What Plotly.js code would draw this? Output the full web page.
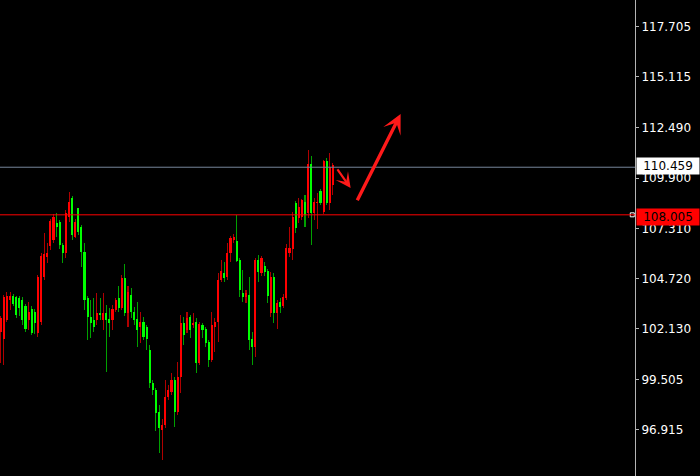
<!DOCTYPE html>
<html>
<head>
<meta charset="utf-8">
<script src="https://cdn.plot.ly/plotly-3.0.1.min.js"></script>
<style>html,body{margin:0;padding:0;background:#000;}#chart{width:700px;height:476px;}</style>
</head>
<body>
<div id="chart"></div>
<script>
const openP = [101.97,101.61,102.58,103.62,103.82,103.77,103.72,103.62,103.31,102.58,103.15,103.00,101.91,102.48,104.80,105.83,106.40,106.71,107.58,107.64,106.45,106.04,107.89,108.87,106.86,108.36,107.38,106.09,103.72,102.74,102.58,102.58,102.94,102.58,102.94,102.64,102.58,103.10,103.72,103.20,104.75,102.94,103.87,103.00,102.64,102.22,102.48,102.22,101.04,99.34,98.98,97.84,96.91,97.17,98.62,98.87,99.49,97.84,99.65,102.43,102.07,102.74,102.33,102.48,100.37,102.33,102.12,101.45,100.52,102.22,102.48,104.65,105.01,104.80,106.04,106.71,106.66,105.68,103.98,103.77,103.87,101.61,101.19,105.68,105.01,105.37,105.11,102.94,104.80,102.94,103.51,103.31,103.72,106.04,106.24,108.62,107.84,107.89,108.67,108.10,110.63,108.10,108.62,109.23,108.15,110.78,108.62,109.54];
const highP = [102.79,103.87,104.03,104.03,103.92,103.82,103.82,103.77,103.41,103.51,103.31,103.15,104.90,106.04,107.07,106.55,107.79,108.05,108.10,107.74,106.55,108.25,109.18,108.98,107.79,108.36,107.48,106.55,103.82,103.62,103.72,103.98,103.72,103.98,103.36,103.20,103.36,103.72,104.34,104.90,105.47,104.34,104.23,103.25,103.51,103.00,102.74,102.33,101.30,99.49,99.08,98.20,97.48,99.49,99.23,99.85,99.65,100.42,102.84,102.74,103.00,102.84,102.94,102.69,102.48,102.43,102.22,101.55,103.00,102.69,105.01,105.68,105.57,106.55,106.91,107.02,108.00,105.78,105.16,104.13,104.80,101.97,105.78,105.94,105.88,105.57,105.21,105.06,105.01,103.62,103.72,103.92,106.50,107.38,108.15,108.72,108.87,108.82,109.03,111.35,111.04,108.87,109.13,109.34,110.83,110.94,111.19,110.68];
const lowP = [100.37,100.26,102.48,103.10,103.31,102.69,102.79,102.33,101.97,102.07,101.81,101.86,101.71,102.33,104.65,105.52,106.19,106.55,106.86,106.24,105.52,105.78,107.64,106.71,106.81,106.97,105.32,103.10,101.55,101.66,101.97,102.33,102.58,102.07,99.90,101.71,102.07,103.00,103.00,103.10,102.79,102.22,102.69,102.33,101.19,101.40,101.55,101.04,99.08,98.72,96.86,95.73,95.37,97.02,98.46,98.72,97.07,97.69,98.82,101.30,101.91,101.66,102.17,99.85,100.26,101.66,101.19,100.16,100.42,100.93,101.45,104.54,104.54,104.65,105.57,106.55,105.57,103.77,103.51,103.46,101.04,100.26,100.68,104.54,104.85,104.85,103.46,102.74,102.43,102.12,102.94,103.20,103.62,105.83,105.68,107.07,107.58,107.74,107.38,107.84,106.45,107.74,107.28,108.51,108.05,108.51,108.25,109.03];
const closeP = [102.69,103.77,103.82,103.82,103.41,102.84,103.20,102.58,102.12,103.00,101.91,102.43,104.80,105.88,105.99,106.04,107.69,107.89,107.38,106.45,106.04,108.10,108.67,106.97,107.64,107.12,106.09,103.62,102.74,102.43,102.22,102.94,102.84,102.94,102.58,102.43,103.15,103.62,103.20,104.75,102.94,104.03,103.00,102.58,102.07,102.48,101.71,101.61,99.34,98.98,97.79,97.02,97.17,98.62,98.98,99.49,97.84,99.65,102.43,101.81,102.69,102.07,102.43,100.37,102.38,102.07,101.40,100.52,102.33,102.48,104.65,105.11,104.75,106.04,106.81,106.86,105.63,104.13,103.77,103.98,101.55,101.19,105.68,105.06,105.78,105.06,103.82,104.80,102.94,103.46,103.25,103.77,106.30,106.30,107.89,107.33,108.41,108.77,108.00,110.63,108.10,108.67,108.67,108.62,110.78,108.62,110.47,110.57];

const tickValues = [117.705,115.115,112.490,109.900,107.310,104.720,102.130,99.505,96.915];
const tickLabels = ["117.705","115.115","112.490","109.900","107.310","104.720","102.130","99.505","96.915"];

const bidLevel = 110.459;
const keyLevel = 108.005;
const bidLabel = "110.459";
const keyLabel = "108.005";

// arrows: [tipIndex, tipPrice, tailIndex, tailPrice]
const smallArrow = [112.7, 109.39, 108.1, 110.42];
const bigArrow = [128.8, 113.20, 114.6, 108.68];

const idx = openP.map((_, i) => i);
const isUp = openP.map((o, i) => closeP[i] >= o);
const UP_BODY = '#FF0000', UP_WICK = '#B00000';
const DN_BODY = '#00FF00', DN_WICK = '#00A000';
const FONT = 'DejaVu Sans, Verdana, sans-serif';

const wicks = {
  type: 'bar', x: idx,
  base: lowP, y: highP.map((h, i) => h - lowP[i]),
  width: 0.33,
  marker: {color: isUp.map(u => u ? UP_WICK : DN_WICK), line: {width: 0}},
  hoverinfo: 'skip'
};
const bodies = {
  type: 'bar', x: idx,
  base: openP.map((o, i) => Math.min(o, closeP[i])),
  y: openP.map((o, i) => Math.max(Math.abs(closeP[i] - o), 0.06)),
  width: 0.68,
  marker: {color: isUp.map(u => u ? UP_BODY : DN_BODY), line: {width: 0}},
  hoverinfo: 'skip'
};
const levelMark = {
  type: 'scatter', mode: 'markers', x: [203.4], y: [keyLevel],
  marker: {symbol: 'square-open', size: 4, color: '#FFFFFF', line: {width: 1, color: '#FFFFFF'}},
  hoverinfo: 'skip'
};

const layout = {
  width: 700, height: 476,
  margin: {l: 0, r: 65, t: 0, b: 0, pad: 0},
  paper_bgcolor: '#000000', plot_bgcolor: '#000000',
  showlegend: false, barmode: 'overlay', bargap: 0,
  xaxis: {range: [-0.225, 204.28], visible: false, showgrid: false, zeroline: false},
  yaxis: {
    side: 'right', range: [94.54, 119.08],
    tickmode: 'array', tickvals: tickValues, ticktext: tickLabels,
    ticks: 'outside', ticklen: 3, tickcolor: '#B4B4B4', tickwidth: 1,
    showline: true, linecolor: '#B4B4B4', linewidth: 1,
    showgrid: false, zeroline: false,
    tickfont: {family: FONT, size: 12, color: '#FFFFFF'}
  },
  shapes: [
    {type: 'line', xref: 'paper', x0: 0, x1: 1, yref: 'y', y0: bidLevel, y1: bidLevel, line: {color: '#76869A', width: 1}},
    {type: 'line', xref: 'paper', x0: 0, x1: 1, yref: 'y', y0: keyLevel, y1: keyLevel, line: {color: '#FF0000', width: 1}}
  ],
  annotations: [
    {xref: 'paper', x: 1, xanchor: 'left', xshift: 1, yref: 'y', y: bidLevel, yanchor: 'middle', yshift: 1,
     text: bidLabel, showarrow: false, bgcolor: '#FFFFFF', width: 60, height: 14, borderpad: 1,
     font: {family: FONT, size: 12, color: '#000000'}},
    {xref: 'paper', x: 1, xanchor: 'left', xshift: 1, yref: 'y', y: keyLevel, yanchor: 'middle', yshift: -2,
     text: keyLabel, showarrow: false, bgcolor: '#FF0000', width: 60, height: 14, borderpad: 1,
     font: {family: FONT, size: 12, color: '#000000'}},
    {xref: 'x', yref: 'y', x: smallArrow[0], y: smallArrow[1], axref: 'x', ayref: 'y', ax: smallArrow[2], ay: smallArrow[3],
     text: '', showarrow: true, arrowhead: 3, arrowsize: 1.15, arrowwidth: 2.2, arrowcolor: '#FF1A1A', standoff: 0},
    {xref: 'x', yref: 'y', x: bigArrow[0], y: bigArrow[1], axref: 'x', ayref: 'y', ax: bigArrow[2], ay: bigArrow[3],
     text: '', showarrow: true, arrowhead: 3, arrowsize: 0.95, arrowwidth: 3.4, arrowcolor: '#FF1A1A', standoff: 0}
  ]
};

Plotly.newPlot('chart', [wicks, bodies, levelMark], layout, {staticPlot: true, displayModeBar: false});
</script>
</body>
</html>
